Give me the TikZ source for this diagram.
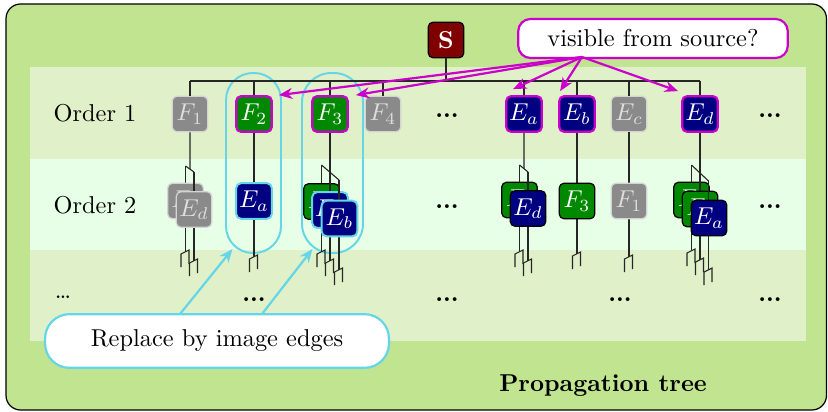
\documentclass[tikz,border=0pt]{standalone}
\usetikzlibrary{arrows.meta,calc}

\definecolor{outergreen}{RGB}{192,228,144}
\definecolor{bandA}{RGB}{224,240,200}
\definecolor{bandB}{RGB}{230,255,230}
\definecolor{facegreen}{RGB}{0,136,0}
\definecolor{facenavy}{RGB}{0,0,128}
\definecolor{facered}{RGB}{128,0,0}
\definecolor{facegray}{RGB}{138,138,138}
\definecolor{rimgray}{RGB}{212,212,212}
\definecolor{inkgray}{RGB}{222,222,222}
\definecolor{visible}{RGB}{204,0,204}
\definecolor{replace}{RGB}{100,214,232}

\tikzset{
  box/.style={rectangle, rounded corners=2pt, minimum size=14.6pt, inner sep=0pt,
              line width=0.5pt, text=white},
  fbox/.style={box, fill=facegreen, draw=black},
  ebox/.style={box, fill=facenavy, draw=black},
  gbox/.style={box, fill=facegray, draw=rimgray, text=inkgray},
  seen/.style={draw=visible, line width=0.9pt},
  marked/.style={draw=replace, line width=0.8pt},
  edge/.style={draw=black!85, line width=0.45pt},
  bigdots/.style={font=\bfseries, inner sep=0pt},
  vis arrow/.style={draw=visible, line width=0.9pt, -{Stealth[length=5.5pt,width=4.5pt]}},
  rep arrow/.style={draw=replace, line width=0.9pt, -{Stealth[length=5.5pt,width=4.5pt]}},
  stub/.pic={\draw[edge] (-4.5,15) -- (-4.5,2) -- (3.5,-2) -- (3.5,12);},
}

\begin{document}
\begin{tikzpicture}[x=0.41pt,y=-0.41pt]
\useasboundingbox (0,0) rectangle (828,411);

% frame and order bands
\draw[fill=outergreen, rounded corners=6pt, line width=0.5pt] (6,4) rectangle (826.5,410);
\fill[bandA] (30,67) rectangle (806,159);
\fill[bandB] (30,159) rectangle (806,250);
\fill[bandA] (30,250) rectangle (806,341);

% row labels
\node (o1) at (95,113) {Order 1};
\node (o2) at (95,205) {Order 2};
\node (o3) at (63,297) {\dots};

% columns selected for image edges
\draw[marked, rounded corners=11pt] (226,73) rectangle (281,253);
\draw[marked, rounded corners=12pt] (302,73) rectangle (363,253);
\node (capA) at (253.5,163) {};
\node (capB) at (332.5,163) {};

% source and first order
\node[box, fill=facered, draw=black] (S) at (446,40) {\textbf{S}};
\coordinate (bus) at (0,81);

\draw[edge] (S.south) -- (S |- bus);
\node[gbox] (F1) at (190,114) {$F_1$};
\node[fbox,seen] (F2) at (254,114) {$F_2$};
\node[fbox,seen] (F3) at (330,114) {$F_3$};
\node[gbox] (F4) at (383,114) {$F_4$};
\node[bigdots] (r1a) at (447,116) {...};
\node[ebox,seen] (Ea) at (524,114) {$E_a$};
\node[ebox,seen] (Eb) at (577,114) {$E_b$};
\node[gbox] (Ec) at (629,114) {$E_c$};
\node[ebox,seen] (Ed) at (700,114) {$E_d$};
\node[bigdots] (r1b) at (770,116) {...};

\draw[edge] (F1 |- bus) -- (Ed |- bus);
\foreach \n in {F1,F2,F3,F4,Ea,Eb,Ec,Ed}
  \draw[edge] (\n |- bus) -- (\n.north);

% second order under F1
\coordinate (hA1) at (185.5,166);
\coordinate (hA2) at (194,172);
\draw[edge] (hA1) -- (hA2);
\draw[edge] (F1.south) -- ($(hA1)!0.53!(hA2)$);
\draw[edge] (hA1) -- (185.5,252) pic{stub};
\node[gbox] (A1) at (185.5,201) {$E_b$};
\draw[edge] (hA2) -- (194,261) pic{stub};
\node[gbox] (A2) at (194,209.5) {$E_d$};

% second order under F2
\draw[edge] (F2.south) -- (254,257) pic{stub};
\node[ebox, marked] (B1) at (254,201) {$E_a$};

% second order under F3
\coordinate (hC1) at (321.5,165);
\coordinate (hC2) at (330,172);
\coordinate (hC3) at (339,180);
\draw[edge] (hC1) -- (hC3);
\draw[edge] (F3.south) -- (hC2);
\draw[edge] (hC1) -- (321.5,252) pic{stub};
\node[fbox] (C1) at (321.5,201.5) {$F_1$};
\draw[edge] (hC2) -- (330,261) pic{stub};
\node[ebox, marked] (C2) at (330,210) {$E_a$};
\draw[edge] (hC3) -- (339,270) pic{stub};
\node[ebox, marked] (C3) at (339.5,218.5) {$E_b$};

% second order under E_a
\coordinate (hD1) at (519.5,165);
\coordinate (hD2) at (528,172);
\draw[edge] (hD1) -- (hD2);
\draw[edge] (Ea.south) -- ($(hD1)!0.53!(hD2)$);
\draw[edge] (hD1) -- (519.5,252) pic{stub};
\node[fbox] (D1) at (519.5,200) {$F_2$};
\draw[edge] (hD2) -- (528,261) pic{stub};
\node[ebox] (D2) at (528,208.5) {$E_d$};

% second order under E_b and E_c
\draw[edge] (Eb.south) -- (577,254) pic{stub};
\node[fbox] (G1) at (577,201) {$F_3$};
\draw[edge] (Ec.south) -- (629,257) pic{stub};
\node[gbox] (H1) at (629,201) {$F_1$};

% second order under E_d
\coordinate (hK1) at (691.5,165);
\coordinate (hK2) at (700,173);
\coordinate (hK3) at (708.5,181);
\draw[edge] (hK1) -- (hK3);
\draw[edge] (Ed.south) -- (hK2);
\draw[edge] (hK1) -- (691.5,251) pic{stub};
\node[fbox] (K1) at (691.5,200) {$F_2$};
\draw[edge] (hK2) -- (700,260) pic{stub};
\node[fbox] (K2) at (700,209) {$F_3$};
\draw[edge] (hK3) -- (708.5,270) pic{stub};
\node[ebox] (K3) at (709,218) {$E_a$};

% continuation marks
\node[bigdots] (r2a) at (447,207) {...};
\node[bigdots] (r2b) at (770,207) {...};
\node[bigdots] (r3a) at (254,300) {...};
\node[bigdots] (r3b) at (447,300) {...};
\node[bigdots] (r3c) at (620,300) {...};
\node[bigdots] (r3d) at (770,300) {...};

% visibility question
\node[draw=visible, line width=0.9pt, fill=white, rounded corners=5pt,
      minimum width=110.5pt, minimum height=16pt, inner sep=0pt] (vis) at (653,38.5)
      {visible from source?};
\coordinate (vsrc) at (582,57);
\draw[vis arrow] (vsrc) -- ($(F2.north east)+(6,0)$);
\draw[vis arrow] (vsrc) -- ($(F3.north east)+(7,0)$);
\draw[vis arrow] (vsrc) -- ($(Ea.north west)+(8,-6)$);
\draw[vis arrow] (vsrc) -- ($(Eb.north west)+(2,-4)$);
\draw[vis arrow] (vsrc) -- ($(Ed.north west)+(-3,-4)$);

% image edge note
\node[draw=replace, line width=0.9pt, fill=white, rounded corners=10pt,
      minimum width=141pt, minimum height=22pt, inner sep=0pt] (rep) at (217,341)
      {Replace by image edges};
\coordinate (rA) at (180,314);
\coordinate (rB) at (262,314);
\draw[rep arrow] (rA) -- ($(capA)+(-21,86)$);
\draw[rep arrow] (rB) -- ($(capB)+(-20,86)$);

% title
\node[font=\bfseries] (title) at (603,386) {Propagation tree};
\end{tikzpicture}
\end{document}
